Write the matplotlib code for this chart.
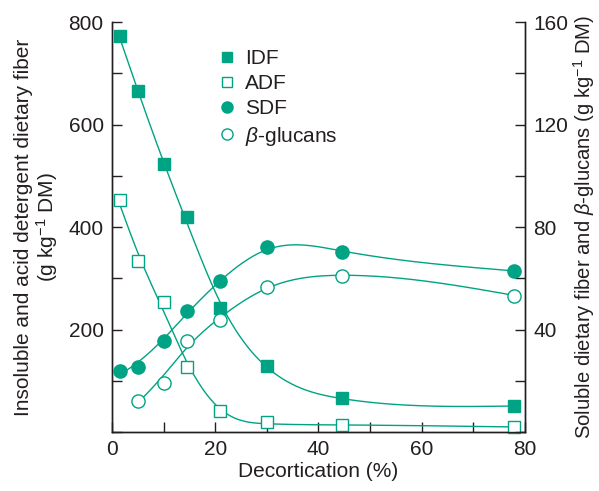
import numpy as np
import matplotlib
matplotlib.use("Agg")
import matplotlib.pyplot as plt
from matplotlib.lines import Line2D
from matplotlib.ticker import MultipleLocator

plt.rcParams['font.family'] = ['Liberation Sans', 'DejaVu Sans']
plt.rcParams['mathtext.fontset'] = 'custom'
plt.rcParams['mathtext.rm'] = 'Liberation Sans'
plt.rcParams['mathtext.it'] = 'Liberation Sans:italic'

# Data
x_all = [1.5, 5, 10, 14.5, 21, 30, 44.5, 78]
idf = [772, 665, 523, 420, 242, 128, 67, 51]
adf = [453, 333, 254, 127, 41, 20, 14, 10]
sdf = [23.8, 25.4, 35.7, 47.1, 58.8, 72.1, 70.2, 62.9]
x_bg = [5, 10, 14.5, 21, 30, 44.5, 78]
bglu = [12.1, 19.2, 35.7, 43.9, 56.5, 61.0, 53.3]

TEAL = '#00a383'
DARK = '#231f20'


def smooth_curve(x, y, lam, n=400):
    """Penalised (Whittaker-type) smoothing curve through the data."""
    x = np.asarray(x, float); y = np.asarray(y, float)
    xg = np.linspace(x[0], x[-1], n)
    h = xg[1] - xg[0]
    B = np.zeros((len(x), n))
    for i, xi in enumerate(x):
        j = min(int((xi - xg[0]) / h), n - 2)
        t = (xi - xg[j]) / h
        B[i, j] = 1 - t; B[i, j + 1] = t
    D = np.diff(np.eye(n), 2, axis=0)
    A = B.T @ B + (lam / h**3) * (D.T @ D)
    f = np.linalg.solve(A, B.T @ y)
    return xg, f


fig = plt.figure(figsize=(5.99, 4.91), dpi=100)
ax = fig.add_axes([0.187, 0.12, 0.689, 0.835])
ax2 = ax.twinx()

for axis, xv, yv, lam in [(ax, x_all, idf, 30.0), (ax, x_all, adf, 20.0),
                          (ax2, x_all, sdf, 40.0), (ax2, x_bg, bglu, 40.0)]:
    xg, f = smooth_curve(xv, yv, lam)
    axis.plot(xg, f, color=TEAL, lw=1.0)

ms_sq = 8.5
ms_c = 9.5
ax.plot(x_all, idf, 's', ms=ms_sq, color=TEAL, mec=TEAL, clip_on=False, zorder=5)
ax.plot(x_all, adf, 's', ms=ms_sq, mfc='white', mec=TEAL, mew=1.0, clip_on=False, zorder=5)
ax2.plot(x_all, sdf, 'o', ms=ms_c, color=TEAL, mec=TEAL, clip_on=False, zorder=5)
ax2.plot(x_bg, bglu, 'o', ms=ms_c, mfc='white', mec=TEAL, mew=1.0, clip_on=False, zorder=5)

ax.set_xlim(0, 80)
ax.set_ylim(0, 800)
ax2.set_ylim(0, 160)

ax.xaxis.set_major_locator(MultipleLocator(20))
ax.xaxis.set_minor_locator(MultipleLocator(10))
ax.yaxis.set_major_locator(MultipleLocator(200))
ax.yaxis.set_minor_locator(MultipleLocator(100))
ax2.yaxis.set_major_locator(MultipleLocator(40))
ax2.yaxis.set_minor_locator(MultipleLocator(20))

FS = 15
for a in (ax, ax2):
    a.spines['top'].set_visible(False)
    for s in a.spines.values():
        s.set_color(DARK); s.set_linewidth(1.0)
    a.tick_params(which='both', direction='in', length=7, width=1.0, color=DARK,
                  labelsize=FS, labelcolor=DARK, pad=6)

ax.set_yticks([200, 400, 600, 800])
ax2.set_yticks([40, 80, 120, 160])

ax.set_xlabel('Decortication (%)', fontsize=FS, color=DARK, labelpad=2)
ax.set_ylabel('Insoluble and acid detergent dietary fiber\n(g kg$^{-1}$ DM)',
              fontsize=FS, color=DARK, labelpad=6, linespacing=1.05)
ax2.set_ylabel('Soluble dietary fiber and $\\beta$-glucans (g kg$^{-1}$ DM)',
               fontsize=14.6, color=DARK, rotation=90, labelpad=2)

handles = [
    Line2D([], [], ls='none', marker='s', ms=7, color=TEAL, mec=TEAL),
    Line2D([], [], ls='none', marker='s', ms=7, mfc='white', mec=TEAL, mew=1.0),
    Line2D([], [], ls='none', marker='o', ms=8, color=TEAL, mec=TEAL),
    Line2D([], [], ls='none', marker='o', ms=8, mfc='white', mec=TEAL, mew=1.0),
]
labels = ['IDF', 'ADF', 'SDF', '$\\beta$-glucans']
leg = ax2.legend(handles, labels, loc='upper left', bbox_to_anchor=(0.232, 0.955),
                 frameon=False, fontsize=FS, handlelength=1.0, handletextpad=0.4,
                 labelspacing=0.3, borderaxespad=0)
for t in leg.get_texts():
    t.set_color(DARK)

fig.savefig('out.png', dpi=100)
